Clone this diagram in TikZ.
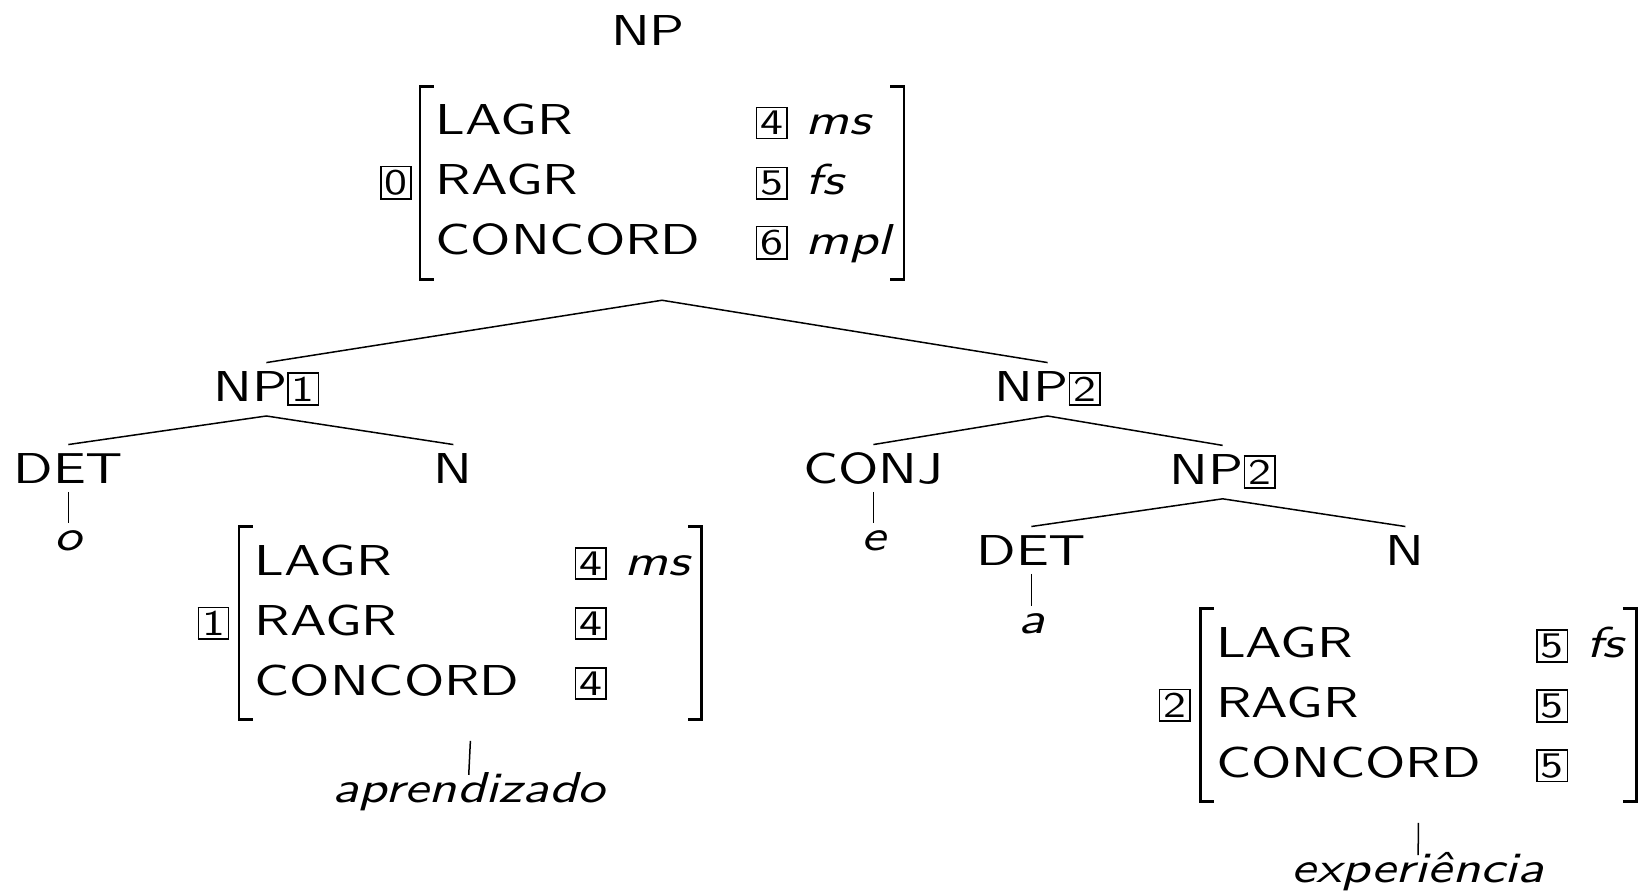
\documentclass[tikz,border=0pt]{standalone}
\usepackage{fontspec}
\setsansfont{lmsans10-regular.otf}[ItalicFont=lmsans10-oblique.otf, FakeStretch=1.27]
\renewcommand{\familydefault}{\sfdefault}
\usetikzlibrary{positioning}

% boxed index for shared values
\newcommand{\boxnum}[1]{{\setlength{\fboxsep}{1pt}\setlength{\fboxrule}{0.5pt}\fbox{\large #1}}}
% feature rows of a matrix
\newcommand{\feats}[1]{{\renewcommand{\arraystretch}{1.11}%
  \begin{tabular}{@{\hspace{2pt}}p{106.7pt}@{}l@{\hspace{6pt}}l@{}}#1\end{tabular}}}

\begin{document}
\begin{tikzpicture}[font=\Large,
    cat/.style ={anchor=base, text height=10pt, text depth=0pt, inner ysep=2.7pt},
    word/.style ={anchor=base, font=\Large\itshape, text height=7pt, text depth=0pt, inner ysep=2pt},
    avm/.style ={anchor=west, inner xsep=3pt, inner ysep=2pt},
    tag/.style ={inner sep=0pt},
    bracket/.style ={line width=0.9pt},
    branch/.style ={line width=0.5pt}]
   \useasboundingbox (0,0) rectangle (19.22,-10.45);

   % mother node
   \node[cat] (np0) at (7.59,-0.53) {NP};
   \node[avm] (avm0) at (4.92,-2.14) {\feats{LAGR & \boxnum{4} & \textit{ms}\\
      RAGR & \boxnum{5} & \textit{fs}\\ CONCORD & \boxnum{6} & \textit{mpl}}};
   \node[tag, left=2.5pt of avm0] (tag0) {\boxnum{0}};

   % conjuncts
   \node[cat] (np1) at (3.12,-4.70) {NP\boxnum{1}};
   \node[cat] (np2) at (12.27,-4.70) {NP\boxnum{2}};

   \node[cat] (det1) at (0.80,-5.66) {DET};
   \node[cat] (n1)   at (5.31,-5.66) {N};
   \node[cat] (conj) at (10.23,-5.66) {CONJ};
   \node[cat] (np3)  at (14.32,-5.67) {NP\boxnum{2}};
   \node[cat] (det2) at (12.08,-6.62) {DET};
   \node[cat] (n2)   at (16.46,-6.62) {N};

   \node[avm] (avm1) at (2.80,-7.30) {\feats{LAGR & \boxnum{4} & \textit{ms}\\
      RAGR & \boxnum{4} & \\ CONCORD & \boxnum{4} & }};
   \node[tag, left=3pt of avm1] (tag1) {\boxnum{1}};
   \node[avm] (avm2) at (14.06,-8.26) {\feats{LAGR & \boxnum{5} & \textit{fs}\\
      RAGR & \boxnum{5} & \\ CONCORD & \boxnum{5} & }};
   \node[tag, left=3pt of avm2] (tag2) {\boxnum{2}};

   % words
   \node[word] (o) at (0.80,-6.45) {o};
   \node[word] (e) at (10.23,-6.45) {e};
   \node[word] (a) at (12.08,-7.42) {a};
   \node[word] (aprendizado) at (5.49,-9.40) {aprendizado};
   \node[word] (experiencia) at (16.61,-10.34) {experiência};

   \foreach \m in {avm0,avm1,avm2} {
     \draw[bracket] ([xshift=4.5pt]\m.north west) -- (\m.north west)
        -- (\m.south west) -- ([xshift=4.5pt]\m.south west);
     \draw[bracket] ([xshift=-4.5pt]\m.north east) -- (\m.north east)
        -- (\m.south east) -- ([xshift=-4.5pt]\m.south east);
   }

   \draw[branch] (np1.north) -- ([yshift=-7pt]avm0.south) -- (np2.north);
   \draw[branch] (det1.north) -- ([yshift=-2pt]np1.south) -- (n1.north);
   \draw[branch] (conj.north) -- ([yshift=-2pt]np2.south) -- (np3.north);
   \draw[branch] (det2.north) -- ([yshift=-2pt]np3.south) -- (n2.north);

   \draw[branch] (det1.south) to (o.north);
   \draw[branch] (conj.south) to (e.north);
   \draw[branch] (det2.south) to (a.north);
   \draw[branch] ([yshift=-7pt]avm1.south) to (aprendizado.north);
   \draw[branch] ([yshift=-7pt]avm2.south) to (experiencia.north);
 \end{tikzpicture}
\end{document}
